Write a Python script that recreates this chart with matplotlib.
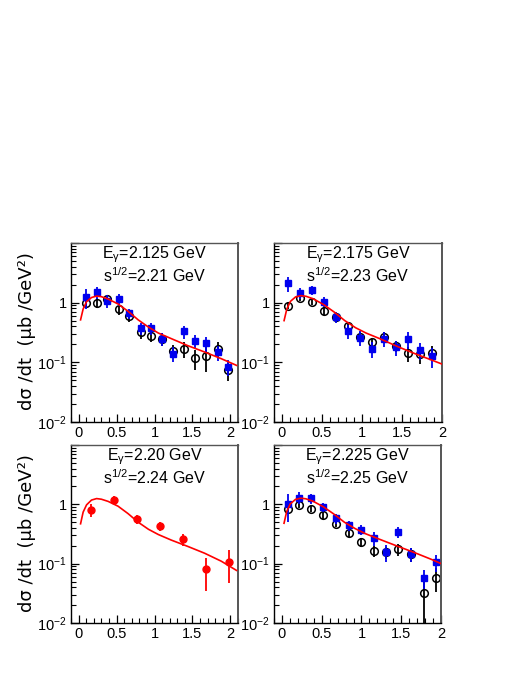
import numpy as np
import matplotlib
matplotlib.use('Agg')
import matplotlib.pyplot as plt
from matplotlib.ticker import FixedLocator, FixedFormatter, LogLocator, MultipleLocator

plt.rcParams['font.family'] = ['Liberation Sans', 'DejaVu Sans']
plt.rcParams['mathtext.fontset'] = 'custom'
plt.rcParams['mathtext.rm'] = 'Liberation Sans'
plt.rcParams['mathtext.it'] = 'Liberation Sans:italic'
plt.rcParams['mathtext.default'] = 'regular'

# panel labels
e_gamma = ['2.125', '2.175', '2.20', '2.225']
sqrt_s = ['2.21', '2.23', '2.24', '2.25']

# -t values (GeV^2) and dsigma/dt (mub/GeV^2)
# Egamma = 2.125
t_tl = [0.096, 0.24, 0.38, 0.53, 0.67, 0.82, 0.96, 1.10, 1.25, 1.39, 1.53, 1.68, 1.83, 1.97]
blue_tl = [1.24, 1.51, 1.07, 1.14, 0.66, 0.37, 0.37, 0.25, 0.14, 0.33, 0.23, 0.21, 0.147, 0.085]
blue_tl_err = [0.45, 0.35, 0.25, 0.25, 0.13, 0.08, 0.08, 0.06, 0.04, 0.08, 0.06, 0.06, 0.04, 0.025]
black_tl = [1.0, 1.0, 1.14, 0.77, 0.6, 0.32, 0.28, 0.245, 0.157, 0.17, 0.118, 0.13, 0.167, 0.074]
black_tl_err = [0.2, 0.2, 0.2, 0.15, 0.12, 0.07, 0.06, 0.06, 0.04, 0.05, 0.045, 0.06, 0.05, 0.025]

# Egamma = 2.175
t_tr = [0.07, 0.22, 0.37, 0.52, 0.67, 0.82, 0.97, 1.13, 1.28, 1.43, 1.58, 1.73, 1.88]
blue_tr = [2.1, 1.43, 1.63, 1.04, 0.58, 0.34, 0.26, 0.167, 0.25, 0.18, 0.245, 0.16, 0.126]
blue_tr_err = [0.6, 0.3, 0.3, 0.2, 0.12, 0.09, 0.07, 0.05, 0.07, 0.05, 0.08, 0.05, 0.045]
black_tr = [0.89, 1.21, 1.04, 0.73, 0.58, 0.40, 0.27, 0.22, 0.27, 0.19, 0.143, 0.138, 0.146]
black_tr_err = [0.12, 0.15, 0.12, 0.1, 0.08, 0.06, 0.05, 0.04, 0.05, 0.04, 0.04, 0.045, 0.04]

# Egamma = 2.20
t_bl = [0.16, 0.46, 0.77, 1.07, 1.38, 1.68, 1.98]
red_bl = [0.81, 1.2, 0.57, 0.43, 0.26, 0.08, 0.107]
red_bl_err = [0.19, 0.2, 0.1, 0.08, 0.06, 0.045, 0.06]

# Egamma = 2.225
t_br = [0.07, 0.22, 0.37, 0.52, 0.68, 0.84, 1.0, 1.16, 1.31, 1.46, 1.62, 1.78, 1.94]
blue_br = [1.0, 1.3, 1.27, 0.9, 0.58, 0.44, 0.37, 0.27, 0.155, 0.34, 0.145, 0.057, 0.107]
blue_br_err = [0.5, 0.3, 0.25, 0.17, 0.11, 0.08, 0.07, 0.07, 0.05, 0.07, 0.04, 0.02, 0.035]
black_br = [0.84, 0.99, 0.84, 0.65, 0.47, 0.33, 0.23, 0.163, 0.155, 0.174, 0.145, 0.032, 0.058]
black_br_err = [0.1, 0.12, 0.1, 0.08, 0.06, 0.05, 0.04, 0.035, 0.035, 0.04, 0.04, 0.025, 0.025]

# model curves
t_model = [0.026, 0.06, 0.105, 0.17, 0.237, 0.30, 0.39, 0.52, 0.65, 0.785, 0.92, 1.05, 1.22, 1.44, 1.66, 1.88, 2.08]
model_tl = [0.515, 0.785, 1.04, 1.22, 1.29, 1.26, 1.15, 0.95, 0.72, 0.515, 0.39, 0.31, 0.25, 0.19, 0.149, 0.115, 0.089]
model_tr = [0.50, 0.78, 1.05, 1.25, 1.31, 1.28, 1.16, 0.93, 0.70, 0.50, 0.38, 0.31, 0.25, 0.185, 0.14, 0.108, 0.085]
model_bl = [0.47, 0.74, 0.98, 1.18, 1.25, 1.22, 1.12, 0.93, 0.70, 0.50, 0.38, 0.31, 0.25, 0.195, 0.15, 0.11, 0.077]
model_br = [0.48, 0.76, 1.02, 1.21, 1.27, 1.24, 1.13, 0.91, 0.69, 0.50, 0.39, 0.32, 0.26, 0.20, 0.155, 0.118, 0.09]

W, H = 529, 684
fig = plt.figure(figsize=(W / 100, H / 100), dpi=100)

def box(l, r, t, b):
    return [l / W, 1 - b / H, (r - l) / W, (b - t) / H]

ax_tl = fig.add_axes(box(71, 238, 243, 422))
ax_tr = fig.add_axes(box(274, 442, 243, 422))
ax_bl = fig.add_axes(box(71, 238, 445, 623))
ax_br = fig.add_axes(box(274, 441, 445, 623))
axes = [ax_tl, ax_tr, ax_bl, ax_br]
xmax = [2.1, 2.0, 2.1, 2.0]
models = [model_tl, model_tr, model_bl, model_br]

blue = '#0000ee'
ebkw = dict(elinewidth=1.3, capsize=0, linestyle='none')

ax_tl.errorbar(t_tl, blue_tl, yerr=blue_tl_err, marker='s', ms=5, color=blue, zorder=3, **ebkw)
ax_tl.errorbar(t_tl, black_tl, yerr=black_tl_err, marker='o', ms=5.5, mfc='none', mec='black',
               mew=1.1, color='black', zorder=2, **ebkw)
ax_tr.errorbar(t_tr, blue_tr, yerr=blue_tr_err, marker='s', ms=5, color=blue, zorder=3, **ebkw)
ax_tr.errorbar(t_tr, black_tr, yerr=black_tr_err, marker='o', ms=5.5, mfc='none', mec='black',
               mew=1.1, color='black', zorder=2, **ebkw)
ax_bl.errorbar(t_bl, red_bl, yerr=red_bl_err, marker='o', ms=5, color='red', zorder=3, **ebkw)
ax_br.errorbar(t_br, blue_br, yerr=blue_br_err, marker='s', ms=5, color=blue, zorder=3, **ebkw)
ax_br.errorbar(t_br, black_br, yerr=black_br_err, marker='o', ms=5.5, mfc='none', mec='black',
               mew=1.1, color='black', zorder=2, **ebkw)

for i, ax in enumerate(axes):
    ax.plot(t_model, models[i], color='red', lw=1.2, zorder=4)
    ax.set_yscale('log')
    ax.set_ylim(0.01, 10)
    ax.set_xlim(-0.1, xmax[i])
    ax.yaxis.set_major_locator(FixedLocator([0.01, 0.1, 1, 10]))
    ax.yaxis.set_major_formatter(FixedFormatter(['$10^{-2}$', '$10^{-1}$', '1', '']))
    ax.yaxis.set_minor_locator(LogLocator(base=10, subs=np.arange(2, 10)))
    ax.yaxis.set_minor_formatter(FixedFormatter([]))
    ax.xaxis.set_minor_locator(MultipleLocator(0.1))
    ax.set_xticks([0, 0.5, 1, 1.5, 2])
    ax.set_xticklabels(['0', '0.5', '1', '1.5', '2'])
    ax.tick_params(which='both', direction='in', top=False, right=False, labelsize=10.5)
    ax.tick_params(which='major', length=6, width=0.9, pad=3)
    ax.tick_params(which='minor', length=3.5, width=0.8)
    for sp in ax.spines.values():
        sp.set_linewidth(1.0)
    ax.spines['top'].set_color('#555555')
    ax.spines['right'].set_color('#555555')
    ax.spines['right'].set_linewidth(1.4)
    ax.text(0.5, 0.935, r'E$_\gamma$=' + e_gamma[i] + ' GeV', transform=ax.transAxes,
            ha='center', va='center', fontsize=11.5)
    ax.text(0.5, 0.815, r's$^{1/2}$=' + sqrt_s[i] + ' GeV', transform=ax.transAxes,
            ha='center', va='center', fontsize=11.5)

ylab = 'dσ /dt  (μb /GeV²)'
fig.text(27 / W, 1 - 331 / H, ylab, rotation=90, ha='center', va='center', fontsize=13,
         family='DejaVu Sans')
fig.text(27 / W, 1 - 533 / H, ylab, rotation=90, ha='center', va='center', fontsize=13,
         family='DejaVu Sans')

fig.savefig('out.png', dpi=100)
